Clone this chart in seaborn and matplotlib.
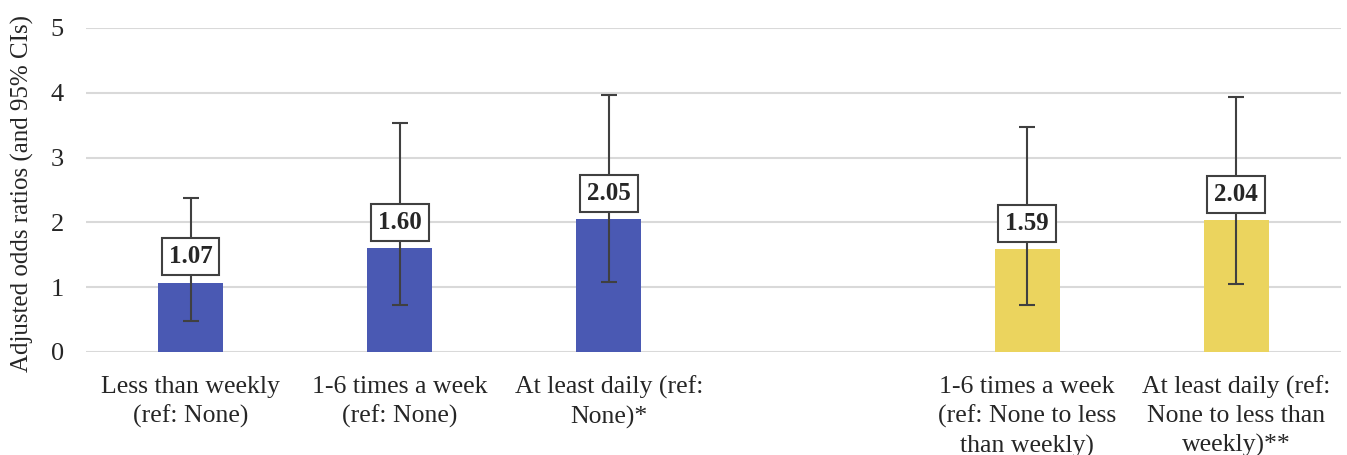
import numpy as np
import pandas as pd
import matplotlib
matplotlib.use("Agg")
import matplotlib.pyplot as plt
import seaborn as sns

# ---- data ----
categories = [
    "Less than weekly\n(ref: None)",
    "1-6 times a week\n(ref: None)",
    "At least daily (ref:\nNone)*",
    " ",
    "1-6 times a week\n(ref: None to less\nthan weekly)",
    "At least daily (ref:\nNone to less than\nweekly)**",
]
bar_categories = [categories[0], categories[1], categories[2], categories[4], categories[5]]
odds_ratios = [1.07, 1.60, 2.05, 1.59, 2.04]
ci_lower = [0.48, 0.72, 1.08, 0.72, 1.05]
ci_upper = [2.38, 3.53, 3.97, 3.47, 3.94]
groups = ["A", "A", "A", "B", "B"]
group_colors = {"A": "#4a59b3", "B": "#ebd45e"}
y_ticks = [0, 1, 2, 3, 4, 5]
y_label = "Adjusted odds ratios (and 95% CIs)"

df = pd.DataFrame({"cat": bar_categories, "or": odds_ratios, "group": groups})

sns.set_theme(style="white")
plt.rcParams["font.family"] = ["Liberation Serif", "DejaVu Serif"]

fig = plt.figure(figsize=(13.47, 4.55), dpi=100)
ax = fig.add_axes([0.0638, 0.2264, 0.9317, 0.7121])

sns.barplot(data=df, x="cat", y="or", hue="group", order=categories,
            palette=group_colors, dodge=False, legend=False, width=0.31,
            saturation=1, errorbar=None, ax=ax, zorder=2, linewidth=0)

pos = [categories.index(c) for c in bar_categories]
vals = np.array(odds_ratios)
yerr = np.array([vals - np.array(ci_lower), np.array(ci_upper) - vals])
ax.errorbar(pos, vals, yerr=yerr, fmt="none", ecolor="#404040",
            elinewidth=1.5, capsize=5.5, capthick=1.5, zorder=3)

for x, v in zip(pos, odds_ratios):
    ax.annotate(f"{v:.2f}", xy=(x, v), xytext=(0, 18.5), textcoords="offset points",
                ha="center", va="center", fontsize=18, fontweight="bold",
                color="#262626", zorder=5,
                bbox=dict(boxstyle="square,pad=0.28", fc="white", ec="#404040", lw=1.5))

ax.set_ylim(0, 5)
ax.set_xlim(-0.5, len(categories) - 0.5)
ax.set_yticks(y_ticks)
ax.set_yticklabels([str(t) for t in y_ticks], fontsize=19, color="#262626")
ax.set_xticks(range(len(categories)))
ax.set_xticklabels(categories, fontsize=18.5, color="#262626", linespacing=1.38)
ax.tick_params(axis="y", length=0, pad=16)
ax.tick_params(axis="x", length=0, pad=17)
ax.set_xlabel("")
ax.set_ylabel(y_label, fontsize=18, color="#262626")
ax.yaxis.set_label_coords(-0.041, 0.49)
ax.yaxis.grid(True, color="#d9d9d9", linewidth=1.5, zorder=0)
ax.set_axisbelow(True)
for s in ax.spines.values():
    s.set_visible(False)

fig.savefig("out.png", dpi=100)
